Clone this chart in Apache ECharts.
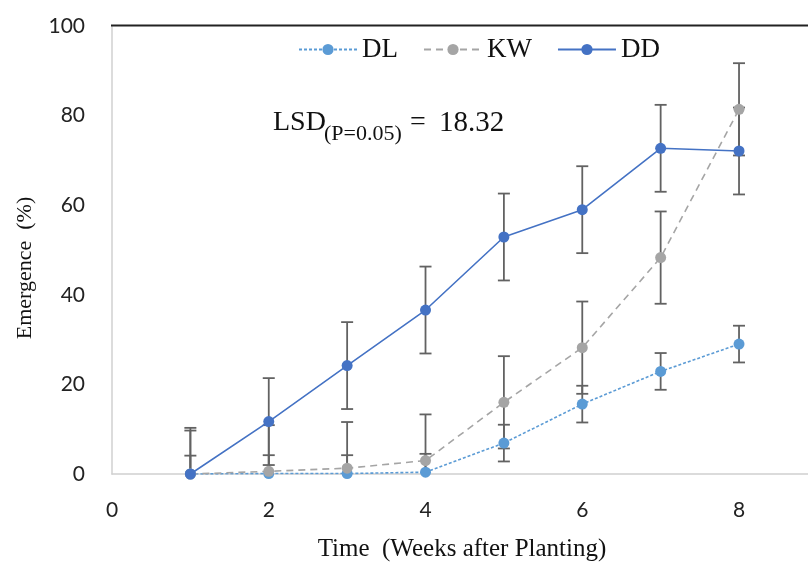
<!DOCTYPE html>
<html>
<head>
<meta charset="utf-8">
<script src="https://cdn.jsdelivr.net/npm/echarts@6/dist/echarts.min.js"></script>
<style>
html,body{margin:0;padding:0;background:#fff;}
#chart{width:808px;height:563px;}
</style>
</head>
<body>
<div id="chart"></div>
<script>
var weeks = [1, 2, 3, 4, 5, 6, 7, 8];
var dlValues = [0, 0.1, 0.1, 0.4, 6.9, 15.6, 22.9, 29.0];
var kwValues = [0, 0.6, 1.3, 3.0, 16.0, 28.2, 48.3, 81.4];
var ddValues = [0, 11.7, 24.2, 36.6, 52.9, 59.0, 72.7, 72.1];
var dlErrors = [4.1, 4.1, 4.1, 4.1, 4.1, 4.1, 4.1, 4.1];
var kwErrors = [10.3, 10.3, 10.3, 10.3, 10.3, 10.3, 10.3, 10.3];
var ddErrors = [9.7, 9.7, 9.7, 9.7, 9.7, 9.7, 9.7, 9.7];
var xTicks = [0, 2, 4, 6, 8];
var yTicks = [0, 20, 40, 60, 80, 100];

var serif = '"Liberation Serif", "Times New Roman", serif';
var sans = 'Lato, "Open Sans", sans-serif';

function pairs(vals) {
  return weeks.map(function (w, i) { return [w, vals[i]]; });
}
function errData(vals, errs) {
  return weeks.map(function (w, i) { return [w, vals[i] - errs[i], vals[i] + errs[i]]; });
}
function errRender(params, api) {
  var x = api.value(0), lo = api.value(1), hi = api.value(2);
  var showLow = lo >= 0;
  var loC = Math.max(lo, 0);
  var pHi = api.coord([x, hi]);
  var pLo = api.coord([x, loC]);
  var w = 6;
  var st = { stroke: '#626262', lineWidth: 1.8 };
  var children = [
    { type: 'line', shape: { x1: pHi[0], y1: pHi[1], x2: pLo[0], y2: pLo[1] }, style: st },
    { type: 'line', shape: { x1: pHi[0] - w, y1: pHi[1], x2: pHi[0] + w, y2: pHi[1] }, style: st }
  ];
  if (showLow) {
    children.push({ type: 'line', shape: { x1: pLo[0] - w, y1: pLo[1], x2: pLo[0] + w, y2: pLo[1] }, style: st });
  }
  return { type: 'group', children: children };
}

var chart = echarts.init(document.getElementById('chart'), null, { renderer: 'canvas' });
var option = {
  animation: false,
  grid: { left: 112, right: 0, top: 26, bottom: 89, containLabel: false },
  legend: {
    left: 293, top: 31,
    itemWidth: 58, itemHeight: 14, itemGap: 25,
    textStyle: { fontFamily: serif, fontSize: 27, color: '#111' },
    data: ['DL', 'KW', 'DD']
  },
  xAxis: {
    type: 'value', min: 0, max: 8.88, interval: 2,
    axisLine: { show: true, lineStyle: { color: '#d0d0d0', width: 1.5 } },
    axisTick: { show: false },
    splitLine: { show: false },
    axisLabel: {
      margin: 26, fontFamily: sans, fontSize: 21, color: '#222', showMaxLabel: false,
      formatter: function (v) { return xTicks.indexOf(v) >= 0 ? String(v) : ''; }
    }
  },
  yAxis: {
    type: 'value', min: 0, max: 100, interval: 20,
    axisLine: { show: true, lineStyle: { color: '#d0d0d0', width: 1.5 } },
    axisTick: { show: false },
    splitLine: { show: false },
    axisLabel: {
      margin: 27, fontFamily: sans, fontSize: 21, color: '#222',
      formatter: function (v) { return yTicks.indexOf(v) >= 0 ? String(v) : ''; }
    }
  },
  graphic: [
    { type: 'line', shape: { x1: 111, y1: 25.5, x2: 808, y2: 25.5 }, style: { stroke: '#222', lineWidth: 2 }, z: 10 },
    {
      type: 'text', x: 25, y: 268, rotation: Math.PI / 2,
      style: { text: 'Emergence  (%)', font: '22px ' + serif, fill: '#111', align: 'center', verticalAlign: 'middle' }
    },
    {
      type: 'text', x: 462, y: 549,
      style: { text: 'Time  (Weeks after Planting)', font: '25px ' + serif, fill: '#111', align: 'center', verticalAlign: 'middle' }
    },
    {
      type: 'text', x: 273, y: 123,
      style: { text: 'LSD', font: '28px ' + serif, fill: '#111', align: 'left', verticalAlign: 'middle' }
    },
    {
      type: 'text', x: 324, y: 134,
      style: { text: '(P=0.05)', font: '22px ' + serif, fill: '#111', align: 'left', verticalAlign: 'middle' }
    },
    {
      type: 'text', x: 410, y: 123,
      style: { text: '=', font: '28px ' + serif, fill: '#111', align: 'left', verticalAlign: 'middle' }
    },
    {
      type: 'text', x: 439, y: 123,
      style: { text: '18.32', font: '29px ' + serif, fill: '#111', align: 'left', verticalAlign: 'middle' }
    }
  ],
  series: [
    { type: 'custom', name: 'errDL', renderItem: errRender, data: errData(dlValues, dlErrors), z: 1, silent: true },
    { type: 'custom', name: 'errKW', renderItem: errRender, data: errData(kwValues, kwErrors), z: 1, silent: true },
    { type: 'custom', name: 'errDD', renderItem: errRender, data: errData(ddValues, ddErrors), z: 1, silent: true },
    {
      name: 'DL', type: 'line', data: pairs(dlValues), z: 3,
      symbol: 'circle', symbolSize: 11,
      itemStyle: { color: '#5B9BD5' },
      lineStyle: { color: '#5B9BD5', width: 1.6, type: [3, 2] }
    },
    {
      name: 'KW', type: 'line', data: pairs(kwValues), z: 3,
      symbol: 'circle', symbolSize: 11,
      itemStyle: { color: '#A5A5A5' },
      lineStyle: { color: '#A5A5A5', width: 1.6, type: [7, 5] }
    },
    {
      name: 'DD', type: 'line', data: pairs(ddValues), z: 4,
      symbol: 'circle', symbolSize: 11,
      itemStyle: { color: '#4472C4' },
      lineStyle: { color: '#4472C4', width: 1.6 }
    }
  ]
};
chart.setOption(option);
</script>
</body>
</html>
